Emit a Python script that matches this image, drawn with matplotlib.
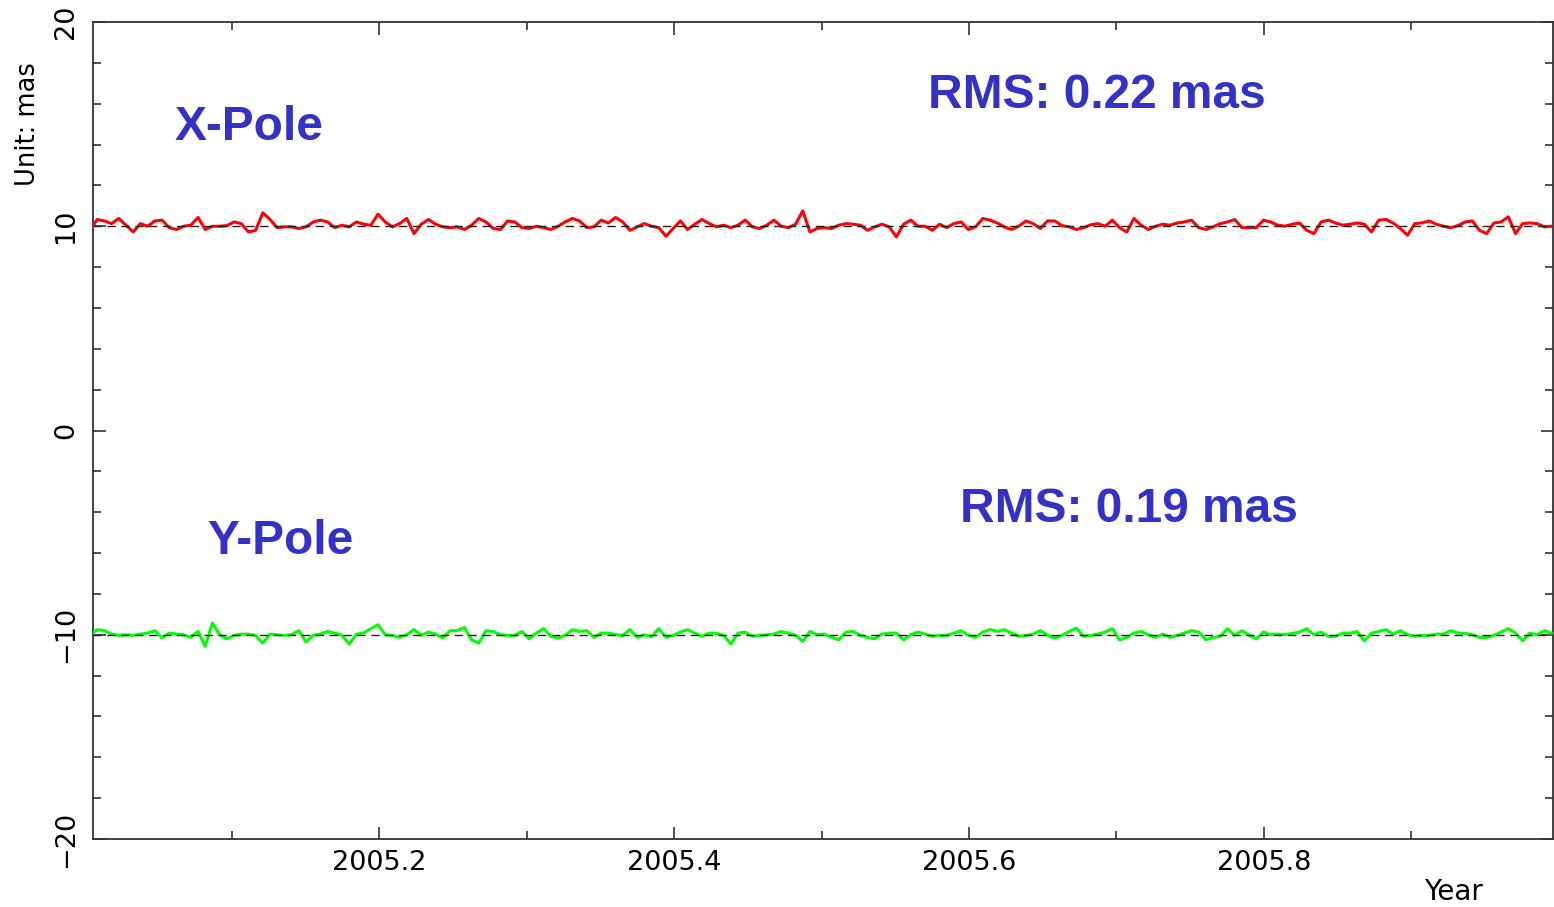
import numpy as np
import matplotlib
matplotlib.use("Agg")
import matplotlib.pyplot as plt
from matplotlib.ticker import MultipleLocator
from matplotlib.transforms import blended_transform_factory

# observation epochs span (decimal year)
t_start, t_end = 2005.004, 2005.995

# polar motion residuals about their reference levels (mas)
x_pole_ref = 10.0
x_pole_res = [
    -0.20, 0.33, 0.26, 0.13, 0.38, 0.05, -0.28, 0.13, 0.00, 0.26, 0.30, -0.07, -0.16,
    0.00, 0.05, 0.43, -0.16, 0.00, 0.00, 0.03, 0.21, 0.13, -0.28, -0.20, 0.66, 0.33,
    -0.07, -0.03, -0.03, -0.11, -0.03, 0.21, 0.30, 0.21, -0.07, 0.05, -0.03, 0.21, 0.10,
    0.05, 0.59, 0.21, -0.03, 0.13, 0.38, -0.36, 0.10, 0.33, 0.10, -0.03, -0.07,
    -0.03, -0.16, 0.05, 0.38, 0.21, -0.11, -0.16, 0.26, 0.21, -0.07, -0.11, 0.00, -0.07,
    -0.16, 0.00, 0.21, 0.38, 0.26, -0.07, -0.03, 0.30, 0.16, 0.43, 0.21, -0.20, -0.03,
    0.13, 0.00, -0.07, -0.49, -0.11, 0.26, -0.16, 0.10, 0.33, 0.13, -0.03, 0.05, -0.07,
    0.05, 0.30, -0.03, -0.11, 0.05, 0.30, 0.00, -0.07, 0.10, 0.75, -0.28, -0.11,
    -0.07, -0.11, 0.05, 0.13, 0.10, 0.05, -0.20, -0.03, 0.10, -0.03, -0.52, 0.10, 0.30,
    0.00, 0.00, -0.20, 0.10, -0.07, 0.13, 0.21, -0.16, -0.03, 0.38, 0.30, 0.16, -0.03,
    -0.16, 0.00, 0.26, 0.13, -0.11, 0.26, 0.26, 0.03, -0.03, -0.16, -0.07, 0.07, 0.13,
    0.00, 0.30, -0.07, -0.28, 0.38, 0.05, -0.16, 0.00, 0.10, 0.05, 0.16, 0.21,
    0.30, -0.07, -0.16, -0.03, 0.13, 0.21, 0.33, -0.07, -0.07, -0.07, 0.30, 0.21, 0.05,
    0.00, 0.10, 0.16, -0.20, -0.36, 0.21, 0.30, 0.16, 0.05, 0.10, 0.16, 0.10, -0.28,
    0.30, 0.33, 0.16, -0.11, -0.44, 0.13, 0.16, 0.26, 0.10, 0.00, -0.07, 0.03, 0.21,
    0.26, -0.20, -0.36, 0.16, 0.21, 0.46, -0.36, 0.13, 0.16, 0.13, -0.03, 0.00,
]

y_pole_ref = -10.0
y_pole_res = [
    -0.03, 0.25, 0.20, 0.03, -0.03, 0.00, -0.03, 0.03, 0.08, 0.20, -0.16, 0.08, 0.03,
    0.00, -0.13, 0.16, -0.57, 0.57, 0.00, -0.20, -0.03, 0.03, 0.03, -0.03, -0.41, 0.03,
    0.00, -0.03, 0.00, 0.20, -0.36, -0.03, 0.03, 0.16, 0.08, -0.03, -0.46, 0.03, 0.08,
    0.30, 0.49, 0.00, -0.03, -0.13, 0.00, 0.25, -0.03, 0.13, 0.03, -0.16, 0.20,
    0.20, 0.36, -0.25, -0.41, 0.20, 0.16, 0.00, -0.03, -0.03, 0.16, -0.20, 0.08, 0.30,
    -0.08, -0.16, -0.03, 0.25, 0.16, 0.20, -0.13, 0.08, 0.08, 0.00, -0.03, 0.25, -0.13,
    0.00, -0.10, 0.30, -0.13, -0.03, 0.13, 0.25, 0.08, -0.08, 0.08, 0.07, -0.03, -0.46,
    0.08, 0.13, -0.08, -0.03, 0.00, 0.03, 0.16, 0.08, -0.03, -0.33, 0.16, 0.00,
    0.03, -0.13, -0.25, 0.13, 0.16, -0.03, -0.13, -0.20, 0.03, 0.08, 0.08, -0.25, 0.00,
    0.13, 0.03, -0.08, -0.03, -0.03, 0.08, 0.20, -0.03, -0.13, 0.13, 0.25, 0.16, 0.25,
    0.08, -0.08, -0.03, 0.03, 0.20, -0.03, -0.16, -0.03, 0.16, 0.33, -0.08, -0.03, 0.03,
    0.13, 0.30, -0.25, -0.13, 0.08, 0.16, 0.00, -0.13, 0.03, -0.13, -0.03, 0.08,
    0.20, 0.13, -0.25, -0.13, -0.08, 0.30, -0.03, 0.20, -0.03, -0.20, 0.13, 0.00, 0.03,
    0.00, 0.07, 0.13, 0.30, 0.00, 0.13, -0.08, -0.08, 0.08, 0.08, 0.16, -0.30, 0.08,
    0.16, 0.25, 0.03, 0.20, 0.00, -0.07, -0.03, -0.03, 0.03, 0.03, 0.20, 0.08, 0.07,
    0.00, -0.13, -0.13, -0.03, 0.13, 0.30, 0.08, -0.30, 0.08, 0.00, 0.20, 0.08,
]

labels = ["X-Pole", "Y-Pole"]
rms_text = ["RMS: 0.22 mas", "RMS: 0.19 mas"]

t = np.linspace(t_start, t_end, len(x_pole_res))
x_pole = x_pole_ref + np.array(x_pole_res)
y_pole = y_pole_ref + np.array(y_pole_res)

fig = plt.figure(figsize=(15.54, 9.07), dpi=100)
ax = fig.add_axes([93 / 1554, 1 - 839 / 907, 1460 / 1554, 817 / 907])

ax.plot(t, x_pole, color="#ff0000", lw=2.2, zorder=3)
ax.plot(t, y_pole, color="#00ff00", lw=2.2, zorder=3)
ax.axhline(x_pole_ref, color="#222222", lw=1.0, ls=(0, (6, 4)), zorder=4)
ax.axhline(y_pole_ref, color="#222222", lw=1.0, ls=(0, (6, 4)), zorder=4)

ax.set_xlim(2005.006, 2005.996)
ax.set_ylim(-20, 20)

ax.xaxis.set_major_locator(MultipleLocator(0.2))
ax.xaxis.set_minor_locator(MultipleLocator(0.1))
ax.yaxis.set_major_locator(MultipleLocator(10))
ax.yaxis.set_minor_locator(MultipleLocator(2))
ax.xaxis.set_major_formatter(lambda v, p: f"{v:.1f}")
ax.tick_params(which="both", direction="in", top=True, right=True, color="#333333", width=1.2)
ax.tick_params(which="major", length=9, labelsize=19.5, pad=8)
ax.tick_params(axis="y", which="major", pad=10)
ax.tick_params(which="minor", length=6)
for lab in ax.get_yticklabels():
    lab.set_rotation(90)
    lab.set_va("center")
for sp in ax.spines.values():
    sp.set_color("#333333")
    sp.set_linewidth(1.3)

fig.text(28 / 1554, 1 - 124 / 907, "Unit: mas", rotation=90, ha="center", va="center", fontsize=18.5)
fig.text(1453 / 1554, 1 - 892 / 907, "Year", ha="center", va="center", fontsize=20)

# annotations: x in axes fraction, y in data units
blue = "#3232c8"
font = dict(color=blue, fontsize=34.5, fontweight="bold", family="Liberation Sans", va="baseline")
blend = blended_transform_factory(ax.transAxes, ax.transData)
ax.text(0.0562, 14.2, labels[0], transform=blend, **font)
ax.text(0.572, 15.8, rms_text[0], transform=blend, **font)
ax.text(0.078, -6.07, labels[1], transform=blend, **font)
ax.text(0.594, -4.5, rms_text[1], transform=blend, **font)

fig.savefig("out.png", dpi=100)
